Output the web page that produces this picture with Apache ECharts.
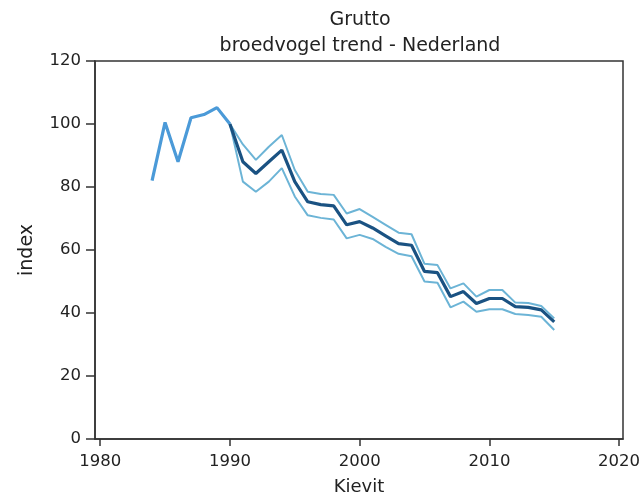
<!DOCTYPE html>
<html>
<head>
<meta charset="utf-8">
<script src="https://cdn.jsdelivr.net/npm/echarts@6/dist/echarts.min.js"></script>
<style>html,body{margin:0;padding:0;background:#fff}#c{width:644px;height:495px}</style>
</head>
<body>
<div id="c"></div>
<script>
var earlyYears = [1984, 1985, 1986, 1987, 1988, 1989, 1990];
var earlyIndex = [82, 100.5, 88, 102, 103, 105.2, 100];

var trendYears = [1990,1991,1992,1993,1994,1995,1996,1997,1998,1999,2000,2001,2002,2003,2004,2005,2006,2007,2008,2009,2010,2011,2012,2013,2014,2015];
var trendIndex = [100,88,84.3,88,91.7,81.7,75.3,74.4,74,68,69,67,64.5,62,61.5,53.2,52.8,45.2,46.8,43,44.6,44.6,42,41.8,41,37.2];
var upperIndex = [100,93.5,88.6,92.8,96.5,85.4,78.5,77.8,77.5,71.6,73,70.5,68,65.5,65,55.6,55.2,47.8,49.4,45.2,47.3,47.3,43.3,43.2,42.2,38.3];
var lowerIndex = [100,81.7,78.5,81.7,86,77,71,70.2,69.7,63.7,64.8,63.5,61,58.8,58,50,49.6,41.8,43.6,40.4,41.2,41.2,39.7,39.4,38.8,34.6];

var xTicks = [1980, 1990, 2000, 2010, 2020];
var titleText = 'Grutto';
var subtitleText = 'broedvogel trend - Nederland';
var xName = 'Kievit';
var yName = 'index';

function pairs(xs, ys) { return xs.map(function (x, i) { return [x, ys[i]]; }); }

var font = 'DejaVu Sans';
var txt = '#222';
var axisCol = '#333';

var chart = echarts.init(document.getElementById('c'));
chart.setOption({
  animation: false,
  title: {
    text: titleText + '\n' + subtitleText,
    left: 355, top: 2, textAlign: 'center',
    textStyle: { fontFamily: font, fontSize: 19, fontWeight: 'normal', color: txt, lineHeight: 26 }
  },
  grid: { left: 95, top: 61, right: 21, bottom: 56, containLabel: false, outerBoundsMode: 'none', show: true, borderColor: axisCol, borderWidth: 1.5, backgroundColor: 'transparent' },
  xAxis: {
    type: 'value', min: 1979.6, max: 2020.3,
    name: xName, nameLocation: 'middle', nameGap: 39,
    nameTextStyle: { fontFamily: font, fontSize: 18, color: txt },
    axisLine: { show: true, lineStyle: { color: axisCol, width: 1.5 } },
    axisTick: { show: true, length: 7, customValues: xTicks, lineStyle: { color: axisCol, width: 1.5 } },
    axisLabel: { customValues: xTicks, formatter: function (v) { return String(v); }, fontFamily: font, fontSize: 16.5, color: txt, margin: 14 },
    splitLine: { show: false }
  },
  yAxis: {
    type: 'value', min: 0, max: 120, interval: 20,
    name: yName, nameLocation: 'middle', nameGap: 58, nameRotate: 90,
    nameTextStyle: { fontFamily: font, fontSize: 19, color: txt },
    axisLine: { show: true, lineStyle: { color: axisCol, width: 1.5 } },
    axisTick: { show: true, length: 9, lineStyle: { color: axisCol, width: 1.5 } },
    axisLabel: { fontFamily: font, fontSize: 16.5, color: txt, margin: 14 },
    splitLine: { show: false }
  },
  series: [
    { type: 'line', data: pairs(earlyYears, earlyIndex), symbol: 'none', lineStyle: { color: '#4b9ad8', width: 3.2 }, z: 3 },
    { type: 'line', data: pairs(trendYears, upperIndex), symbol: 'none', lineStyle: { color: '#6cb4d6', width: 2 }, z: 2 },
    { type: 'line', data: pairs(trendYears, lowerIndex), symbol: 'none', lineStyle: { color: '#6cb4d6', width: 2 }, z: 2 },
    { type: 'line', data: pairs(trendYears, trendIndex), symbol: 'none', lineStyle: { color: '#1a5282', width: 3.2 }, z: 4 }
  ]
});
</script>
</body>
</html>
